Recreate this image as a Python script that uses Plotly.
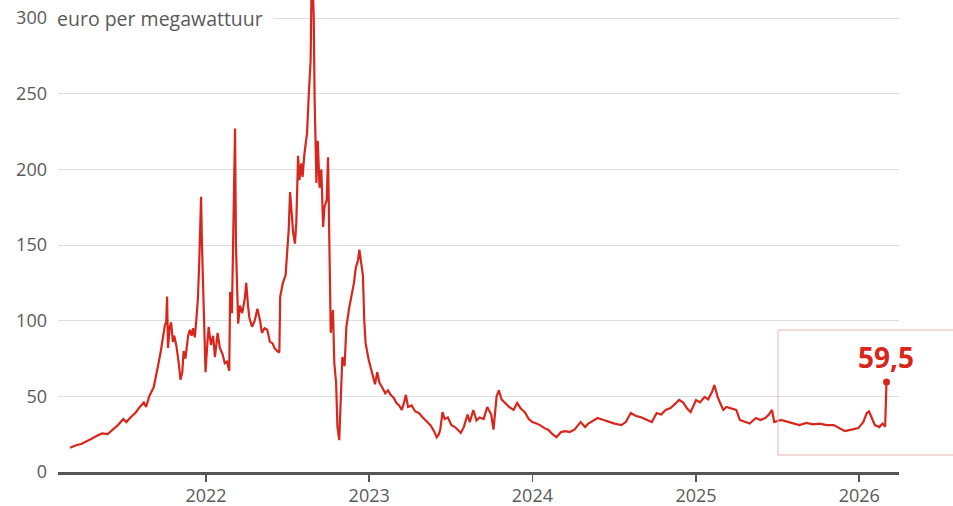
import plotly.graph_objects as go

dates = [
    "2021-03-03", "2021-03-15", "2021-03-28", "2021-04-08", "2021-04-20", "2021-05-02",
    "2021-05-14", "2021-05-26", "2021-06-07", "2021-06-18", "2021-06-30", "2021-07-07",
    "2021-07-16", "2021-07-27", "2021-08-06", "2021-08-15", "2021-08-20", "2021-08-27",
    "2021-09-06", "2021-09-13", "2021-09-17", "2021-09-22", "2021-09-28", "2021-10-01",
    "2021-10-04", "2021-10-06", "2021-10-08", "2021-10-12", "2021-10-15", "2021-10-19",
    "2021-10-22", "2021-10-27", "2021-11-01", "2021-11-05", "2021-11-09", "2021-11-12",
    "2021-11-16", "2021-11-22", "2021-11-26", "2021-11-30", "2021-12-03", "2021-12-07",
    "2021-12-10", "2021-12-14", "2021-12-17", "2021-12-21", "2021-12-23", "2021-12-28",
    "2021-12-31", "2022-01-04", "2022-01-07", "2022-01-12", "2022-01-17", "2022-01-21",
    "2022-01-27", "2022-02-01", "2022-02-07", "2022-02-12", "2022-02-17", "2022-02-22",
    "2022-02-24", "2022-02-28", "2022-03-03", "2022-03-07", "2022-03-09", "2022-03-14",
    "2022-03-18", "2022-03-23", "2022-03-29", "2022-04-01", "2022-04-05", "2022-04-08",
    "2022-04-14", "2022-04-20", "2022-04-26", "2022-05-02", "2022-05-06", "2022-05-12",
    "2022-05-18", "2022-05-24", "2022-05-30", "2022-06-03", "2022-06-09", "2022-06-14",
    "2022-06-16", "2022-06-22", "2022-06-28", "2022-07-01", "2022-07-05", "2022-07-08",
    "2022-07-12", "2022-07-15", "2022-07-19", "2022-07-22", "2022-07-26", "2022-07-29",
    "2022-08-02", "2022-08-05", "2022-08-09", "2022-08-15", "2022-08-19", "2022-08-23",
    "2022-08-26", "2022-08-30", "2022-09-01", "2022-09-05", "2022-09-08", "2022-09-12",
    "2022-09-16", "2022-09-20", "2022-09-23", "2022-09-28", "2022-10-01", "2022-10-04",
    "2022-10-07", "2022-10-12", "2022-10-15", "2022-10-19", "2022-10-22", "2022-10-26",
    "2022-10-29", "2022-11-02", "2022-11-07", "2022-11-11", "2022-11-17", "2022-11-22",
    "2022-11-28", "2022-12-02", "2022-12-07", "2022-12-10", "2022-12-14", "2022-12-18",
    "2022-12-21", "2022-12-24", "2022-12-31", "2023-01-04", "2023-01-09", "2023-01-14",
    "2023-01-19", "2023-01-24", "2023-01-30", "2023-02-06", "2023-02-12", "2023-02-18",
    "2023-02-25", "2023-03-03", "2023-03-09", "2023-03-15", "2023-03-20", "2023-03-24",
    "2023-03-29", "2023-04-06", "2023-04-14", "2023-04-22", "2023-05-01", "2023-05-10",
    "2023-05-18", "2023-05-26", "2023-06-01", "2023-06-06", "2023-06-09", "2023-06-14",
    "2023-06-19", "2023-06-26", "2023-07-04", "2023-07-12", "2023-07-20", "2023-07-25",
    "2023-08-01", "2023-08-09", "2023-08-14", "2023-08-22", "2023-08-29", "2023-09-05",
    "2023-09-14", "2023-09-22", "2023-10-01", "2023-10-06", "2023-10-13", "2023-10-18",
    "2023-10-24", "2023-11-02", "2023-11-10", "2023-11-20", "2023-11-28", "2023-12-06",
    "2023-12-15", "2023-12-24", "2024-01-01", "2024-01-10", "2024-01-18", "2024-01-28",
    "2024-02-06", "2024-02-15", "2024-02-24", "2024-03-05", "2024-03-15", "2024-03-24",
    "2024-04-04", "2024-04-18", "2024-04-28", "2024-05-05", "2024-05-15", "2024-05-26",
    "2024-06-08", "2024-06-20", "2024-07-03", "2024-07-18", "2024-07-28", "2024-08-08",
    "2024-08-20", "2024-08-30", "2024-09-10", "2024-09-24", "2024-10-05", "2024-10-15",
    "2024-10-25", "2024-11-05", "2024-11-15", "2024-11-24", "2024-12-03", "2024-12-12",
    "2024-12-20", "2025-01-01", "2025-01-10", "2025-01-20", "2025-01-28", "2025-02-06",
    "2025-02-11", "2025-02-18", "2025-02-24", "2025-03-03", "2025-03-10", "2025-03-20",
    "2025-04-01", "2025-04-09", "2025-04-20", "2025-05-01", "2025-05-15", "2025-05-25",
    "2025-06-05", "2025-06-13", "2025-06-20", "2025-06-25", "2025-07-10", "2025-07-25",
    "2025-08-05", "2025-08-20", "2025-09-05", "2025-09-20", "2025-10-05", "2025-10-20",
    "2025-11-05", "2025-11-15", "2025-11-30", "2025-12-15", "2025-12-30", "2026-01-10",
    "2026-01-18", "2026-01-23", "2026-01-30", "2026-02-05", "2026-02-15", "2026-02-22",
    "2026-02-28", "2026-03-03",
]

prices = [
    16, 17.5, 18.5, 20, 22, 24,
    25.5, 25, 28, 31, 35, 33,
    36, 39, 43, 46, 43, 50,
    56, 68, 72, 80, 92, 97,
    99, 116, 82, 96, 99, 86,
    90, 83, 72, 61, 66, 80,
    75, 90, 94, 90, 95, 89,
    99, 115, 140, 182, 150, 88,
    66, 85, 96, 84, 90, 76,
    92, 82, 78, 72, 73, 67,
    119, 105, 170, 227, 150, 98,
    110, 105, 115, 125, 110, 102,
    96, 100, 108, 100, 92, 95,
    94, 86, 85, 82, 80, 79,
    116, 125, 130, 145, 160, 185,
    165, 158, 151, 165, 209, 193,
    204, 195, 210, 224, 250, 272,
    340, 300, 246, 191, 219, 188,
    200, 162, 175, 180, 208, 150,
    92, 107, 72, 59, 30, 21,
    40, 76, 70, 96, 108, 116,
    125, 135, 140, 147, 138, 130,
    100, 85, 74, 69, 64, 58,
    66, 59, 56, 52, 54, 51,
    49, 45.6, 44, 41, 46, 51,
    43, 44, 40, 39, 36, 33,
    31, 27, 23, 25, 28, 39.6,
    35, 36, 31, 29.7, 27, 25.8,
    30, 38, 33, 41, 34, 36,
    35, 43, 38, 28, 50, 54,
    48, 45.6, 43, 41, 45.6, 42,
    39.6, 35, 33, 32, 31, 29,
    27.8, 25, 23, 26.4, 27, 26.4,
    28, 33, 29.7, 32, 34, 35.7,
    34.4, 33, 32, 31, 33, 39,
    37, 36.3, 35, 33, 39, 38,
    41, 42.3, 45, 47.6, 46, 42,
    39.6, 47.6, 46, 49.6, 48, 53,
    57.5, 50, 45.6, 41, 43, 42.3,
    41, 34.4, 33, 32, 35.7, 34.4,
    35.7, 38, 41, 33, 34.4, 33,
    32, 31, 32.5, 31.5, 32, 31,
    31, 29.5, 27, 28, 29, 33,
    39, 40, 35.7, 31, 29.7, 32,
    30, 59.5,
]

year_ticks = ["2022-01-01", "2023-01-01", "2024-01-01", "2025-01-01", "2026-01-01"]
year_labels = ["2022", "2023", "2024", "2025", "2026"]
y_ticks = [0, 50, 100, 150, 200, 250, 300]
unit_label = "euro per megawattuur"
last_label = "59,5"

RED = "#d9261c"
GRAY_TEXT = "#5a5a5a"
FONT = "Open Sans"

fig = go.Figure()
fig.add_trace(go.Scatter(
    x=dates, y=prices, mode="lines",
    line=dict(color=RED, width=2.2),
    hoverinfo="skip", showlegend=False,
))
fig.add_trace(go.Scatter(
    x=[dates[-1]], y=[prices[-1]], mode="markers",
    marker=dict(color=RED, size=7),
    hoverinfo="skip", showlegend=False, cliponaxis=False,
))

fig.update_layout(
    width=953, height=506,
    margin=dict(l=58, r=54, t=0, b=34, autoexpand=False),
    paper_bgcolor="white", plot_bgcolor="white",
    font=dict(family=FONT, size=18, color=GRAY_TEXT),
    showlegend=False,
)
fig.update_xaxes(
    type="date", automargin=False,
    range=["2021-02-04", "2026-03-31"],
    tickvals=year_ticks, ticktext=year_labels,
    showgrid=False, zeroline=False,
    showline=True, linecolor="#555555", linewidth=2.5,
    ticks="outside", ticklen=7, tickwidth=1.5, tickcolor="#555555",
    ticklabelstandoff=-1,
    tickfont=dict(size=18, color=GRAY_TEXT),
)
fig.update_yaxes(
    range=[0, 312], automargin=False,
    tickvals=y_ticks,
    showgrid=True, gridcolor="#dedede", gridwidth=1,
    zeroline=False, showline=False, ticks="",
    ticklabelstandoff=10,
    tickfont=dict(size=18, color=GRAY_TEXT),
)

fig.add_annotation(
    xref="paper", yref="y", x=0, y=300,
    text=unit_label, showarrow=False,
    xanchor="left", yanchor="middle",
    width=216, align="left",
    bgcolor="white", borderpad=0, xshift=-2,
    font=dict(size=19.5, color=GRAY_TEXT),
)
fig.add_annotation(
    x=dates[-1], y=prices[-1],
    text="<b>" + last_label + "</b>", showarrow=False,
    xanchor="center", yanchor="bottom", yshift=4,
    font=dict(size=28, color=RED),
)
fig.add_shape(
    type="rect", xref="paper", yref="y",
    x0=(778 - 58) / (953 - 58 - 54), x1=1.08,
    y0=11.2, y1=93.8,
    line=dict(color="#e6b7b3", width=1),
    fillcolor="rgba(0,0,0,0)", layer="above",
)

fig.write_html(
    "out.html",
    config={"displayModeBar": False, "staticPlot": True},
    post_script="document.body.style.margin='0px';",
)
